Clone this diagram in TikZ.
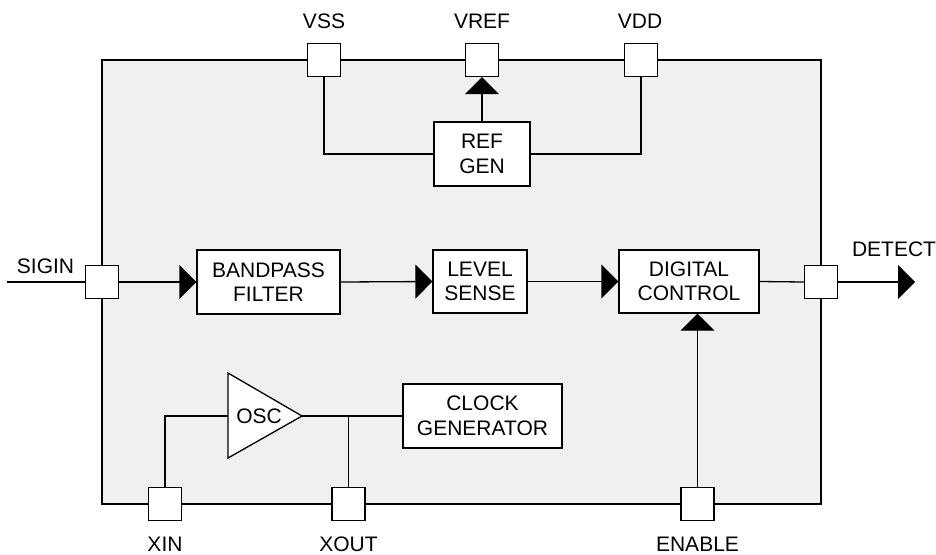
\documentclass[tikz,border=0pt]{standalone}
\usepackage{fontspec}
\setmainfont{Liberation Sans}
\usetikzlibrary{arrows.meta}
\definecolor{chipbg}{RGB}{240,240,240}
\tikzset{
  every node/.style={font=\fontsize{21}{24.5}\selectfont},
  wire/.style={line width=1.3pt},
  arr/.style={wire,-{Triangle[length=17pt,width=34pt]}},
  pad/.style={draw,line width=1.3pt,fill=white,minimum width=33pt,minimum height=33pt,inner sep=0pt},
  blk/.style={draw,line width=1.3pt,fill=white,align=center,inner sep=0pt},
  lbl/.style={inner sep=0pt}
}
\begin{document}
\begin{tikzpicture}[x=1pt,y=-1pt]
\useasboundingbox (0,0) rectangle (936,554);
% chip outline
\node[draw,line width=1.3pt,fill=chipbg,minimum width=719pt,minimum height=444pt,inner sep=0pt] (chip) at (461.5,282) {};
% blocks
\node[blk,minimum width=96pt,minimum height=64pt] (refgen) at (482,154) {REF\\GEN};
\node[blk,minimum width=143pt,minimum height=64pt] (bpf) at (268.5,282) {BANDPASS\\FILTER};
\node[blk,minimum width=94pt,minimum height=63pt] (lvl) at (480,281.5) {LEVEL\\SENSE};
\node[blk,minimum width=140pt,minimum height=63pt] (dig) at (689,281.5) {DIGITAL\\CONTROL};
\node[blk,minimum width=159pt,minimum height=64pt] (clk) at (482.5,416) {CLOCK\\GENERATOR};
% oscillator
\coordinate (oscin) at (228,416);
\coordinate (oscout) at (302,416);
\draw[wire,fill=white] (228,373) -- (oscout) -- (228,458) -- cycle;
\node[lbl] (osc) at (259,416) {OSC};
% pads
\node[pad] (vss) at (324,60) {};
\node[pad] (vref) at (482,60) {};
\node[pad] (vdd) at (641,60) {};
\node[pad] (sigin) at (102,282) {};
\node[pad] (detect) at (821,282) {};
\node[pad] (xin) at (165,504) {};
\node[pad] (xout) at (348.5,504) {};
\node[pad] (enable) at (697.5,504) {};
% free ends
\coordinate (siginend) at (7,282);
\coordinate (detectend) at (915,282);
% connectors
\draw[wire] (vss.south) |- (refgen.west);
\draw[wire] (vdd.south) |- (refgen.east);
\draw[arr] (refgen.north) -- (vref.south);
\draw[wire] (siginend) -- (sigin.west);
\draw[arr] (sigin.east) -- (bpf.west);
\draw[arr] (bpf.east) -- (lvl.west);
\draw[arr] (lvl.east) -- (dig.west);
\draw[wire] (dig.east) -- (detect.west);
\draw[arr] (detect.east) -- (detectend);
\draw[arr] (enable.north) -- (enable.north |- dig.south);
\draw[wire] (xin.north) |- (oscin);
\draw[wire] (oscout) -- (clk.west);
\draw[wire] (xout.north) -- (xout.north |- oscout);
% labels
\node[lbl] (lvss) at (324,21.5) {VSS};
\node[lbl] (lvref) at (482,21.5) {VREF};
\node[lbl] (lvdd) at (640,21.5) {VDD};
\node[lbl] (lsigin) at (45.5,266.5) {SIGIN};
\node[lbl] (ldetect) at (894,249) {DETECT};
\node[lbl] (lxin) at (165,544) {XIN};
\node[lbl] (lxout) at (348.5,544) {XOUT};
\node[lbl] (lenable) at (697.5,544) {ENABLE};
\end{tikzpicture}
\end{document}
